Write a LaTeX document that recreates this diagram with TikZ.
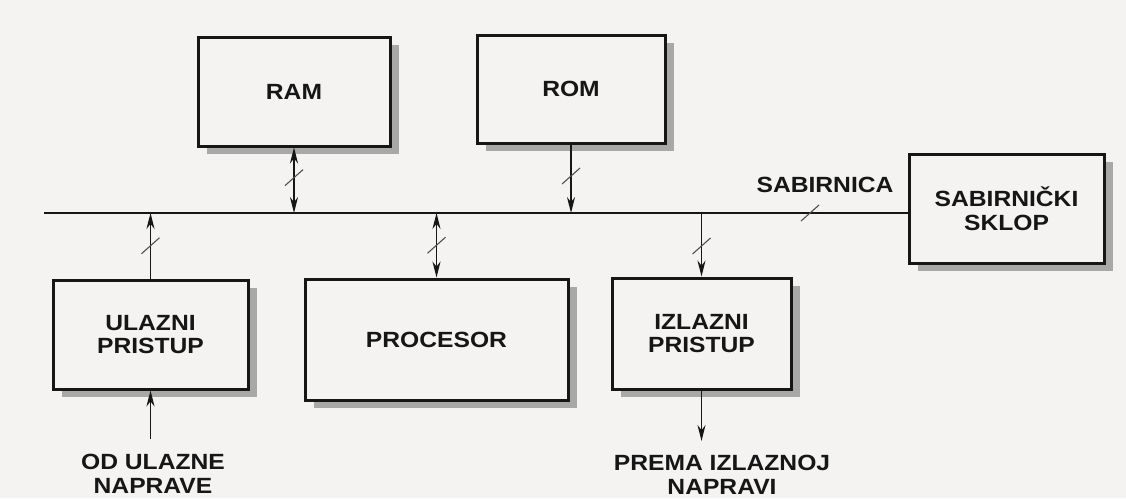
\documentclass[tikz,border=0pt]{standalone}
\usepackage{fontspec}
\setmainfont{Liberation Sans}[FakeStretch=1.12]
\usetikzlibrary{arrows.meta,calc}
\definecolor{ink}{HTML}{161616}
\definecolor{paper}{HTML}{F4F3F1}
\definecolor{shade}{HTML}{A8A8A6}
\begin{document}
\begin{tikzpicture}[x=1pt,y=-1pt,
  box/.style={draw=ink,line width=3pt,fill=paper,rectangle,align=center,
    font=\bfseries\fontsize{22}{23.5}\selectfont,text=ink,inner sep=0pt},
  shadowed/.style={preaction={fill=shade,draw=none,transform canvas={shift={(9pt,-8pt)}}}},
  conn/.style={draw=ink,line width=1.3pt,-{Stealth[length=16pt,width=8pt]}},
  bconn/.style={draw=ink,line width=1.3pt,{Stealth[length=16pt,width=8pt]}-{Stealth[length=16pt,width=8pt]}},
  tick/.style={draw=ink!75,line width=1.1pt},
  lbl/.style={align=center,font=\bfseries\fontsize{22}{24}\selectfont,text=ink,inner sep=0pt}]
\useasboundingbox (0,0) rectangle (1126,498);
\fill[paper] (0,0) rectangle (1126,498);

\node[box,shadowed,minimum width=192pt,minimum height=109pt] (RAM) at (294,91.5) {RAM};
\node[box,shadowed,minimum width=188pt,minimum height=108pt] (ROM) at (571,89) {ROM};
\node[box,shadowed,minimum width=195pt,minimum height=109pt] (SKLOP) at (1006.5,208.5) {SABIRNIČKI\\SKLOP};
\node[box,shadowed,minimum width=195pt,minimum height=109pt] (ULAZ) at (150.5,334.5) {ULAZNI\\PRISTUP};
\node[box,shadowed,minimum width=263pt,minimum height=121pt] (PROC) at (436.5,339.5) {PROCESOR};
\node[box,shadowed,minimum width=179pt,minimum height=111pt] (IZLAZ) at (701.5,333.5) {IZLAZNI\\PRISTUP};

\coordinate (busL) at (44,213);
\coordinate (busR) at (busL -| SKLOP.west);
\draw[draw=ink,line width=2.8pt] (busL) -- (busR);
\node[lbl] (sab) at (825,185) {SABIRNICA};
\coordinate (bt) at (810,213);
\draw[tick] (bt) +(-9,8) -- +(9,-8);

\node[lbl] (odu) at (153,474) {OD ULAZNE\\NAPRAVE};
\node[lbl] (prema) at (722,475) {PREMA IZLAZNOJ\\NAPRAVI};
\coordinate (inS) at (ULAZ.south |- 0,439);
\coordinate (outE) at (IZLAZ.south |- 0,441);

\draw[bconn] (RAM.south) -- (RAM.south |- busL) coordinate[pos=0.46] (t1);
\draw[conn] (ROM.south) -- (ROM.south |- busL) coordinate[pos=0.46] (t2);
\draw[bconn] (PROC.north |- busL) -- (PROC.north) coordinate[pos=0.5] (t3);
\draw[conn] (ULAZ.north) -- (ULAZ.north |- busL) coordinate[pos=0.5] (t4);
\draw[conn] (IZLAZ.north |- busL) -- (IZLAZ.north) coordinate[pos=0.52] (t5);
\draw[conn] (inS) -- (ULAZ.south);
\draw[conn] (IZLAZ.south) -- (outE);

\foreach \t in {t1,t2,t3,t4,t5} \draw[tick] (\t) +(-9,8) -- +(9,-8);
\end{tikzpicture}
\end{document}
